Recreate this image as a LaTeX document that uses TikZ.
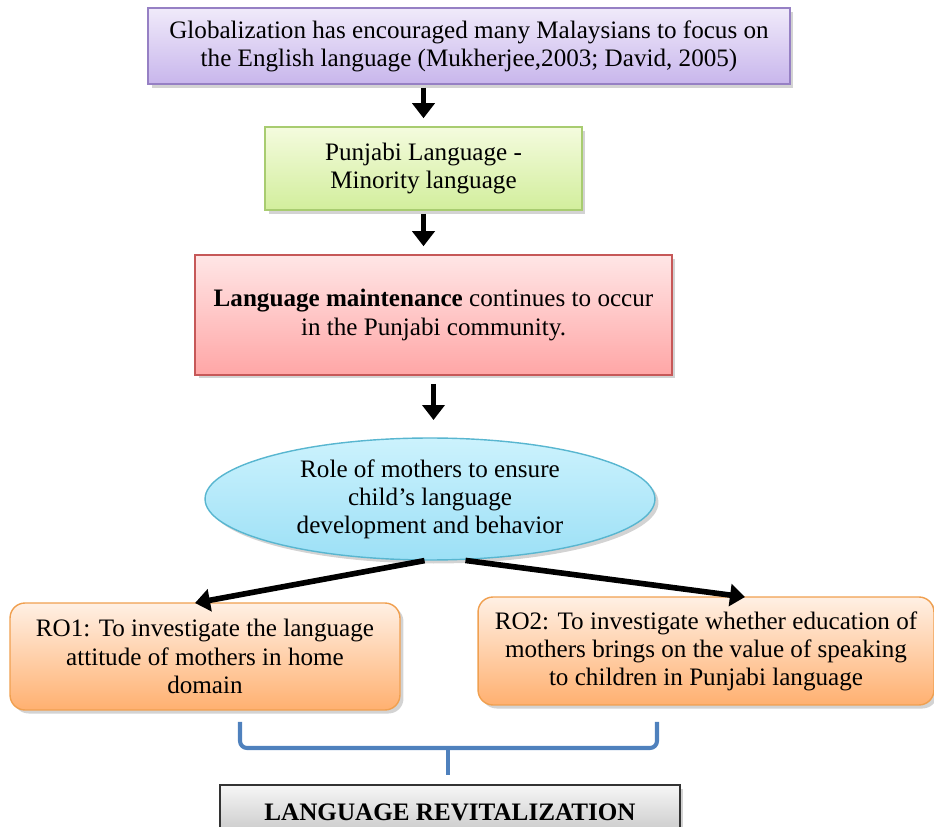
\documentclass[tikz,border=0pt]{standalone}
\usepackage{fontspec}
\setmainfont{Liberation Serif}
\usepackage{tikz}
\usetikzlibrary{shapes.geometric,arrows.meta,shadows,calc,positioning}

\definecolor{lavtop}{RGB}{240,234,250}
\definecolor{lavbot}{RGB}{200,182,236}
\definecolor{lavline}{RGB}{150,128,196}
\definecolor{limetop}{RGB}{244,251,222}
\definecolor{limebot}{RGB}{210,238,156}
\definecolor{limeline}{RGB}{168,204,112}
\definecolor{rosetop}{RGB}{255,230,230}
\definecolor{rosebot}{RGB}{255,166,166}
\definecolor{roseline}{RGB}{198,88,88}
\definecolor{skytop}{RGB}{204,242,253}
\definecolor{skybot}{RGB}{156,224,246}
\definecolor{skyline}{RGB}{88,182,208}
\definecolor{peachtop}{RGB}{255,240,228}
\definecolor{peachbot}{RGB}{255,176,112}
\definecolor{peachline}{RGB}{240,160,80}
\definecolor{greytop}{RGB}{246,246,246}
\definecolor{greybot}{RGB}{196,196,196}
\definecolor{bracecol}{RGB}{79,129,189}

\tikzset{
  box/.style={draw, line width=0.8pt, inner sep=0pt, outer sep=0pt, align=center,
    font=\fontsize{14.3}{16}\selectfont,
    drop shadow={shadow xshift=2pt, shadow yshift=-2pt, opacity=0.35}},
  globebox/.style={box, draw=lavline, top color=lavtop, bottom color=lavbot},
  minoritybox/.style={box, draw=limeline, top color=limetop, bottom color=limebot},
  maintbox/.style={box, draw=roseline, top color=rosetop, bottom color=rosebot},
  rolebubble/.style={box, ellipse, draw=skyline, top color=skytop, bottom color=skybot},
  objbox/.style={box, rounded corners=0.3cm, draw=peachline, top color=peachtop, bottom color=peachbot},
  revbox/.style={box, draw=black!80, top color=greytop, bottom color=greybot, drop shadow={opacity=0}},
  flow/.style={-{Triangle[length=0.3cm, width=0.44cm]}, line width=3.2pt, black},
}

\begin{document}
\begin{tikzpicture}[x=0.02cm, y=-0.02cm]
  \useasboundingbox (0,0) rectangle (934,827);
  \node[globebox, minimum width=12.84cm, minimum height=1.52cm] (globe) at (469,46)
    {Globalization has encouraged many Malaysians to focus on\\the English language (Mukherjee,2003; David, 2005)};
  \node[minoritybox, minimum width=6.34cm, minimum height=1.66cm] (punjabi) at (423.5,168.5)
    {Punjabi Language -\\Minority language};
  \node[maintbox, minimum width=9.54cm, minimum height=2.4cm] (maint) at (433.5,315)
    {\textbf{Language maintenance} continues to occur\\in the Punjabi community.};
  \node[rolebubble, minimum width=9cm, minimum height=2.44cm] (role) at (430,499)
    {Role of mothers to ensure\\child's language\\development and behavior};
  \node[objbox, minimum width=7.8cm, minimum height=2.14cm] (ro1) at (205,656.5)
    {RO1: To investigate the language\\attitude of mothers in home\\domain};
  \node[objbox, minimum width=9.12cm, minimum height=2.16cm] (ro2) at (706,651)
    {RO2: To investigate whether education of\\mothers brings on the value of speaking\\to children in Punjabi language};
  \node[revbox, minimum width=9.2cm, minimum height=1.1cm, anchor=north] (reviv) at (450,785)
    {\textbf{LANGUAGE REVITALIZATION}};

  % arrows between the steps
  \draw[flow, shorten <=2pt, shorten >=5pt] (globe.south -| punjabi.north) -- (punjabi.north);
  \draw[flow, shorten <=2pt, shorten >=5pt] (punjabi.south) -- (maint.north -| punjabi.south);
  \draw[flow, shorten <=5pt, shorten >=0.36cm] (maint.south) -- (role.north -| maint.south);
  \draw[flow, shorten <=2pt] ([xshift=-0.04cm]role.south) -- ([xshift=-0.2cm]ro1.north);
  \draw[flow, shorten <=2pt] ([xshift=0.64cm]role.south) -- ([xshift=0.78cm]ro2.north);

  % bracket joining the two objectives
  \draw[bracecol, line width=2.3pt, rounded corners=4pt] (240,722) |- (448,748) -| (657,722);
  \draw[bracecol, line width=2.3pt] (448,748) -- (448,775);
\end{tikzpicture}
\end{document}
